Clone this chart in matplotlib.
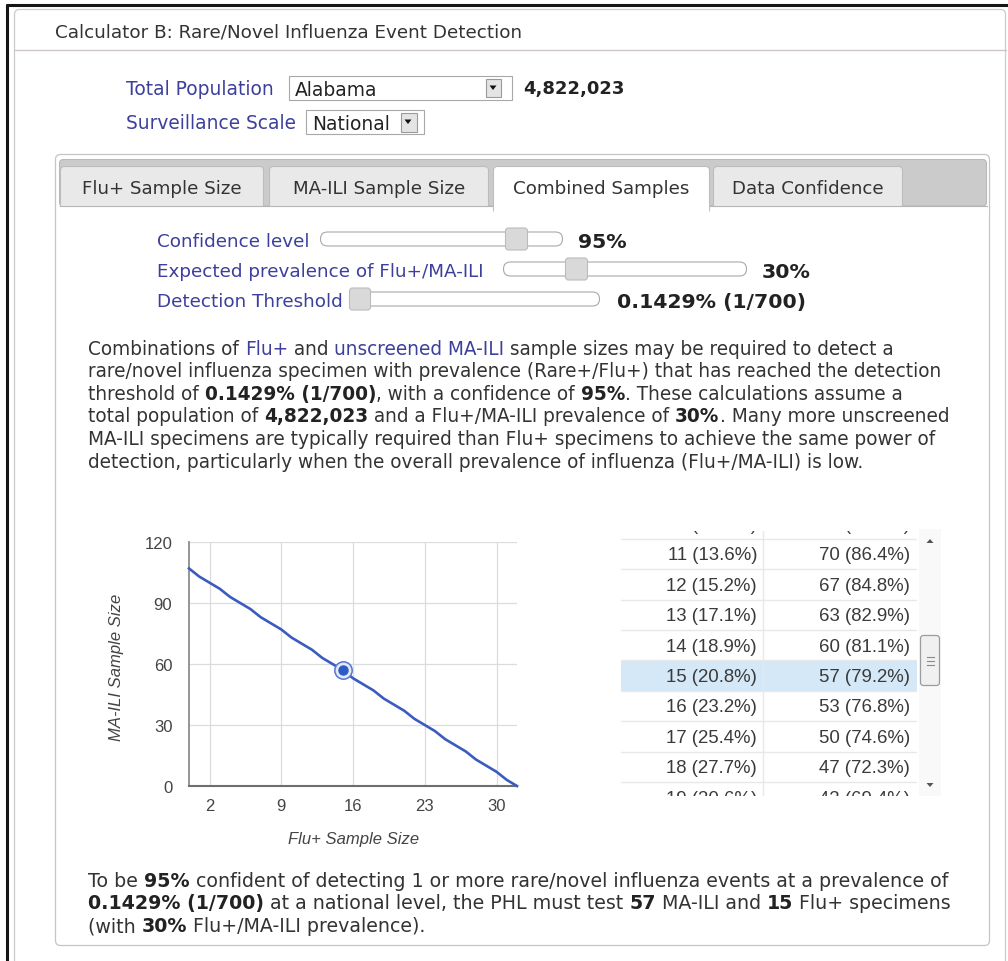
import matplotlib
matplotlib.use('Agg')
import matplotlib.pyplot as plt
from matplotlib.patches import FancyBboxPatch, Rectangle, Polygon

# ---------------- data ----------------
flu_sizes = [0, 1, 2, 3, 4, 5, 6, 7, 8, 9, 10, 11, 12, 13, 14, 15, 16,
             17, 18, 19, 20, 21, 22, 23, 24, 25, 26, 27, 28, 29, 30, 31, 32]
ili_sizes = [107, 103, 100, 97, 93, 90, 87, 83, 80, 77, 73, 70, 67, 63, 60, 57, 53,
             50, 47, 43, 40, 37, 33, 30, 27, 23, 20, 17, 13, 10, 7, 3, 0]
selected_flu = 15
selected_ili = 57
x_ticks = [2, 9, 16, 23, 30]
y_ticks = [0, 30, 60, 90, 120]

table_flu = [10, 11, 12, 13, 14, 15, 16, 17, 18, 19]
table_flu_pct = [12.0, 13.6, 15.2, 17.1, 18.9, 20.8, 23.2, 25.4, 27.7, 30.6]
table_ili = [73, 70, 67, 63, 60, 57, 53, 50, 47, 43]
table_ili_pct = [88.0, 86.4, 84.8, 82.9, 81.1, 79.2, 76.8, 74.6, 72.3, 69.4]

tab_labels = ['Flu+ Sample Size', 'MA-ILI Sample Size', 'Combined Samples', 'Data Confidence']
active_tab = 2
slider_labels = ['Confidence level', 'Expected prevalence of Flu+/MA-ILI', 'Detection Threshold']
slider_values = ['95%', '30%', '0.1429% (1/700)']
state = 'Alabama'
population = '4,822,023'
scale = 'National'

# ---------------- canvas ----------------
W, H = 1008, 962
fig = plt.figure(figsize=(W / 100, H / 100), dpi=100)
fig.patch.set_facecolor('white')
bg = fig.add_axes([0, 0, 1, 1])
bg.set_xlim(0, W)
bg.set_ylim(H, 0)
bg.axis('off')
R = fig.canvas.get_renderer()

UI = 'DejaVu Sans'
ARIAL = 'Liberation Sans'
PX = 100 / 72
BLUE = '#3c3f9c'
TXT = '#333333'
BTXT = '#222222'


def tw(s, size, weight='normal', family=UI, style='normal'):
    kw = dict(fontsize=size, fontweight=weight, family=family, style=style)
    a = bg.text(0, 0, '|' + s + '|', **kw)
    b = bg.text(0, 0, '||', **kw)
    w = a.get_window_extent(R).width - b.get_window_extent(R).width
    a.remove()
    b.remove()
    return w


def fit(parts, target, base=10, family=UI):
    w = sum(tw(t, base, 'bold' if bd else 'normal', family) for t, bd, c in parts)
    return base * target / w


def draw_runs(x, yc, parts, size, family=UI, z=6):
    base = yc + 0.36 * size * PX
    for t, bd, c in parts:
        wt = 'bold' if bd else 'normal'
        bg.text(x, base, t, fontsize=size, fontweight=wt, family=family, color=c,
                va='baseline', ha='left', zorder=z)
        x += tw(t, size, wt, family)
    return x


def rbox(x0, y0, x1, y1, r, fc, ec, lw=0.8, z=1):
    p = FancyBboxPatch((x0, y0), x1 - x0, y1 - y0,
                       boxstyle=f'round,pad=0,rounding_size={r}',
                       fc=fc, ec=ec, lw=lw, zorder=z)
    bg.add_patch(p)


def rect(x0, y0, x1, y1, fc, ec='none', lw=0.8, z=1):
    bg.add_patch(Rectangle((x0, y0), x1 - x0, y1 - y0, fc=fc, ec=ec, lw=lw, zorder=z))


# ---------------- frame ----------------
bg.plot([7, 7], [5, H], color='#151515', lw=2.2, zorder=10, solid_capstyle='butt')
bg.plot([6, W], [6, 6], color='#151515', lw=2.2, zorder=10, solid_capstyle='butt')
rbox(14.5, 10.5, 1005.5, 990, 5, 'white', '#cfcaca', lw=0.9, z=1)
bg.plot([14.5, 1005.5], [50.5, 50.5], color='#cdc7c7', lw=1.0, zorder=2)

hs = fit([('Calculator B: Rare/Novel Influenza Event Detection', False, TXT)], 470)
draw_runs(55, 31, [('Calculator B: Rare/Novel Influenza Event Detection', False, TXT)], hs)

# ---------------- selectors ----------------
ls = fit([('Total Population', False, BLUE)], 148)
draw_runs(126, 88, [('Total Population', False, BLUE)], ls)
draw_runs(126, 122, [('Surveillance Scale', False, BLUE)], ls)

rect(288.5, 76.5, 511.5, 100.5, 'white', '#a8a8a8', z=2)
draw_runs(295, 89, [(state, False, BTXT)], ls)
rect(485.5, 79.5, 500.5, 97.5, '#e4e4e4', '#9a9a9a', z=3)
bg.add_patch(Polygon([(489.5, 86.5), (496.5, 86.5), (493, 91)], closed=True, fc='#111', ec='none', zorder=4))
ps = fit([(population, True, BTXT)], 102)
draw_runs(523, 88, [(population, True, BTXT)], ps)

rect(305.5, 110.5, 423.5, 134.5, 'white', '#a8a8a8', z=2)
draw_runs(312, 123, [(scale, False, BTXT)], ls)
rect(400.5, 113.5, 416.5, 132.5, '#e4e4e4', '#9a9a9a', z=3)
bg.add_patch(Polygon([(404.5, 120.5), (411.5, 120.5), (408, 125)], closed=True, fc='#111', ec='none', zorder=4))

# ---------------- inner panel & tabs ----------------
rbox(55.5, 155.5, 989.5, 946.5, 5, 'white', '#c9c3c3', lw=0.9, z=1)
rbox(59.5, 160.5, 986.5, 207, 4, '#cbcbcb', '#b9b9b9', lw=0.8, z=2)
tab_x = [(60, 264), (269, 489), (493, 710), (713, 903)]
for i, (x0, x1) in enumerate(tab_x):
    if i != active_tab:
        rbox(x0 + 0.5, 167.5, x1 - 0.5, 214, 4, '#e9e9e9', '#bdbdbd', lw=0.8, z=3)
rect(56.5, 207.5, 988.8, 218, 'white', z=4)
bg.plot([59.5, tab_x[active_tab][0] + 0.5], [207.2, 207.2], color='#b5b5b5', lw=0.8, zorder=5)
bg.plot([tab_x[active_tab][1] - 0.5, 986.5], [207.2, 207.2], color='#b5b5b5', lw=0.8, zorder=5)
x0, x1 = tab_x[active_tab]
rbox(x0 + 0.5, 167.5, x1 - 0.5, 214, 4, 'white', '#bdbdbd', lw=0.8, z=5)
rect(x0 + 1.2, 206.5, x1 - 1.2, 219, 'white', z=5.5)
ts = fit([('Combined Samples', False, TXT)], 176)
for i, (x0, x1) in enumerate(tab_x):
    w = tw(tab_labels[i], ts)
    draw_runs((x0 + x1) / 2 - w / 2, 187, [(tab_labels[i], False, TXT)], ts)

# ---------------- sliders ----------------
ss = fit([('Confidence level', False, BLUE)], 153)
vs = fit([(slider_values[2], True, BTXT)], 190)
slider_y = [240, 270, 300]
tracks = [(320, 563), (503, 747), (349, 600)]
handles = [(505, 528), (565, 588), (349, 371)]
val_x = [578, 762, 617]
for i in range(3):
    yc = slider_y[i]
    draw_runs(157, yc, [(slider_labels[i], False, BLUE)], ss)
    rbox(tracks[i][0] + 0.5, yc - 7, tracks[i][1] - 0.5, yc + 7, 7, 'white', '#a9a9a9', lw=0.8, z=3)
    rbox(handles[i][0] + 0.5, yc - 11, handles[i][1] - 0.5, yc + 11, 3, '#d9d9d9', '#bcbcbc', lw=0.8, z=4)
    draw_runs(val_x[i], yc + 1, [(slider_values[i], True, BTXT)], vs)

# ---------------- paragraph ----------------
para = [
    [('Combinations of ', False, TXT), ('Flu+', False, BLUE), (' and ', False, TXT),
     ('unscreened MA-ILI', False, BLUE), (' sample sizes may be required to detect a', False, TXT)],
    [('rare/novel influenza specimen with prevalence (Rare+/Flu+) that has reached the detection', False, TXT)],
    [('threshold of ', False, TXT), (slider_values[2], True, BTXT), (', with a confidence of ', False, TXT),
     (slider_values[0], True, BTXT), ('. These calculations assume a', False, TXT)],
    [('total population of ', False, TXT), (population, True, BTXT),
     (' and a Flu+/MA-ILI prevalence of ', False, TXT), (slider_values[1], True, BTXT),
     ('. Many more unscreened', False, TXT)],
    [('MA-ILI specimens are typically required than Flu+ specimens to achieve the same power of', False, TXT)],
    [('detection, particularly when the overall prevalence of influenza (Flu+/MA-ILI) is low.', False, TXT)],
]
pfs = (fit(para[0], 797) + fit(para[1], 859) + fit(para[3], 869)) / 3
for i, line in enumerate(para):
    draw_runs(88, 348 + i * 22.6, line, pfs)

bottom = [
    [('To be ', False, TXT), (slider_values[0], True, BTXT),
     (' confident of detecting 1 or more rare/novel influenza events at a prevalence of', False, TXT)],
    [(slider_values[2], True, BTXT), (' at a national level, the PHL must test ', False, TXT),
     (str(selected_ili), True, BTXT), (' MA-ILI and ', False, TXT), (str(selected_flu), True, BTXT),
     (' Flu+ specimens', False, TXT)],
    [('(with ', False, TXT), (slider_values[1], True, BTXT), (' Flu+/MA-ILI prevalence).', False, TXT)],
]
bfs = (fit(bottom[0], 852) + fit(bottom[1], 869)) / 2
for i, line in enumerate(bottom):
    draw_runs(88, 880 + i * 22.6, line, bfs)

# ---------------- chart ----------------
ax_l, ax_r, ax_t, ax_b = 189, 517, 543, 787
ax = fig.add_axes([ax_l / W, 1 - ax_b / H, (ax_r - ax_l) / W, (ax_b - ax_t) / H])
ax.set_facecolor('none')
ax.set_xlim(0, 32)
ax.set_ylim(0, 120)
ax.set_xticks(x_ticks)
ax.set_yticks(y_ticks)
ax.grid(True, color='#dcdcdc', lw=0.9)
ax.set_axisbelow(True)
for s in ['top', 'right']:
    ax.spines[s].set_visible(False)
ax.spines['left'].set_color('#8c8c8c')
ax.spines['left'].set_linewidth(1.3)
ax.spines['bottom'].set_color('#6e6e6e')
ax.spines['bottom'].set_linewidth(1.5)
ax.tick_params(length=0, labelsize=12, labelcolor='#444444', pad=12)
for lab in ax.get_xticklabels() + ax.get_yticklabels():
    lab.set_family(ARIAL)
ax.tick_params(axis='x', pad=9)
ax.plot(flu_sizes, ili_sizes, color='#3b5cbf', lw=1.9, solid_joinstyle='round', zorder=3, clip_on=False)
ax.plot([selected_flu], [selected_ili], 'o', ms=12.5, mfc='#e4ebf8', mec='#5477cf', mew=1.1, zorder=4, clip_on=False)
ax.plot([selected_flu], [selected_ili], 'o', ms=6.5, color='#2f5bc6', zorder=5, clip_on=False)

bg.text(354, 840, 'Flu+ Sample Size', fontsize=12, family=ARIAL, style='italic', color='#444444',
        ha='center', va='center')
bg.text(116, 667, 'MA-ILI Sample Size', fontsize=12, family=ARIAL, style='italic', color='#444444',
        ha='center', va='center', rotation=90)

# ---------------- table ----------------
tx0, tx1, ty0, ty1 = 621, 917, 532, 797
tb = fig.add_axes([tx0 / W, 1 - ty1 / H, (tx1 - tx0) / W, (ty1 - ty0) / H])
tb.set_xlim(tx0, tx1)
tb.set_ylim(ty1, ty0)
tb.axis('off')
row_h = 30.4
first_center = 555 - row_h
for i in range(len(table_flu)):
    yc = first_center + i * row_h
    if table_flu[i] == selected_flu:
        tb.add_patch(Rectangle((tx0, yc - row_h / 2), tx1 - tx0, row_h, fc='#d5e8f7', ec='none', zorder=1))
    tb.plot([tx0, tx1], [yc + row_h / 2, yc + row_h / 2], color='#e8e8e8', lw=1.0, zorder=2)
    tb.text(757, yc + 1, f'{table_flu[i]} ({table_flu_pct[i]:.1f}%)', fontsize=13.4, family=ARIAL,
            color='#3a3a3a', ha='right', va='center', clip_on=True, zorder=3)
    tb.text(910, yc + 1, f'{table_ili[i]} ({table_ili_pct[i]:.1f}%)', fontsize=13.4, family=ARIAL,
            color='#3a3a3a', ha='right', va='center', clip_on=True, zorder=3)
tb.plot([762.5, 762.5], [ty0, ty1], color='#e8e8e8', lw=1.0, zorder=2)

# scrollbar
rect(918.5, 530, 940.5, 797, '#f9f9f9', z=2)
bg.add_patch(Polygon([(926.5, 544), (933.5, 544), (930, 540)], closed=True, fc='#555', ec='none', zorder=3))
bg.add_patch(Polygon([(926.5, 784), (933.5, 784), (930, 788)], closed=True, fc='#555', ec='none', zorder=3))
rbox(920.5, 636.5, 939.5, 686.5, 3, '#f0f0f0', '#9c9c9c', lw=0.9, z=3)
for gy in [657.5, 661.5, 665.5]:
    bg.plot([926.5, 933.5], [gy, gy], color='#8a8a8a', lw=0.8, zorder=4)

fig.savefig('out.png', dpi=100, facecolor='white')
